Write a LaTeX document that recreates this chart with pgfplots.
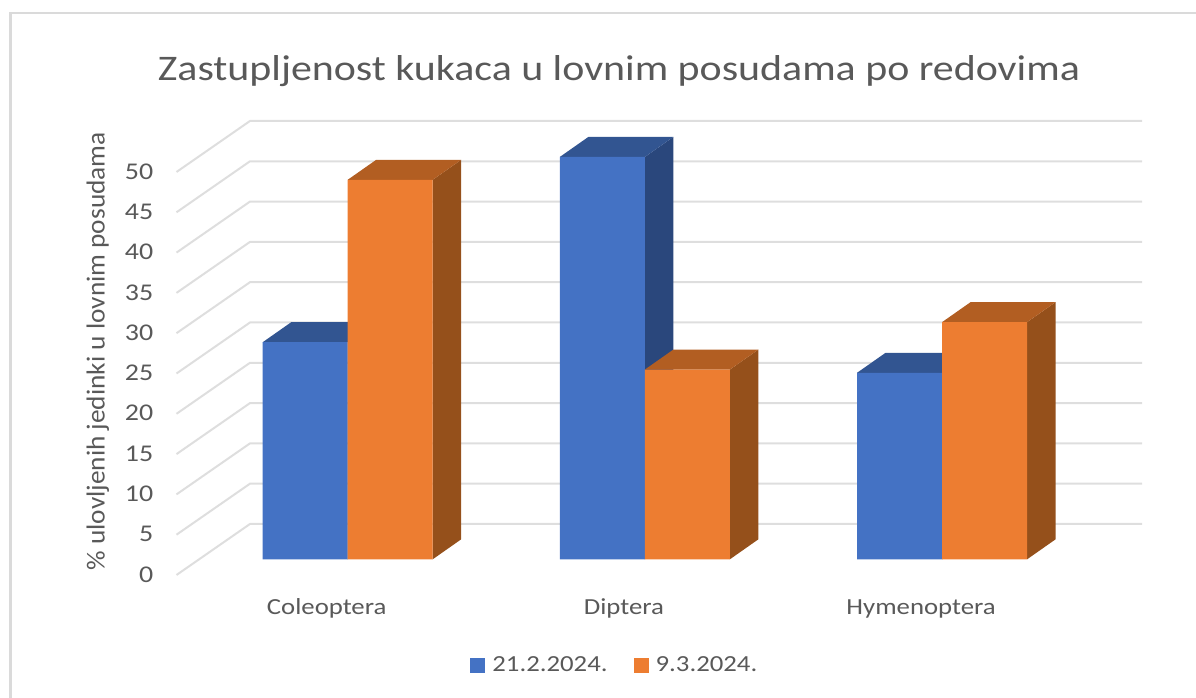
\documentclass[border=0pt]{standalone}
\usepackage{pgfplots}
\pgfplotsset{compat=1.18}
\usepackage{fontspec}
\setmainfont{Carlito}
\newfontfamily\wide[FakeStretch=1.164]{Carlito}
\newfontfamily\semi[FakeStretch=1.05]{Carlito}
\definecolor{txt}{HTML}{595959}
\definecolor{gridc}{HTML}{DEDEDE}
\definecolor{frame}{HTML}{DADADA}
\definecolor{bl}{HTML}{4472C4}
\definecolor{blS}{HTML}{2A477C}
\definecolor{blT}{HTML}{325591}
\definecolor{or}{HTML}{ED7D31}
\definecolor{orS}{HTML}{95501B}
\definecolor{orT}{HTML}{B25E22}
\newcommand{\wall}[2]{\addplot[gridc,line width=2pt] coordinates {(-0.576,#1)(-0.3287,#2)(2.6726,#2)};}
\newcommand{\face}[2]{\addplot[fill=#1,draw=none,forget plot] coordinates {#2} --cycle;}
\begin{document}
\begin{tikzpicture}[x=1pt,y=1pt]
\path[use as bounding box] (0,0) rectangle (1196,698);
\draw[frame,line width=2.4pt] (10.5,-5) -- (10.5,685) -- (1200,685);
\node[text=txt,font=\wide\fontsize{36}{40}\selectfont,anchor=center] at (619,627) {Zastupljenost kukaca u lovnim posudama po redovima};
% walls, y ticks, category labels: the front plane of the chart
\begin{axis}[
  at={(176.5pt,123pt)},anchor=south west,scale only axis,
  width=965.5pt,height=403pt,clip=false,
  xmin=-0.576,xmax=2.6726,ymin=0,ymax=50,
  axis line style={draw=none},tick style={draw=none},
  ytick={0,5,...,50},
  xtick={0,1,2},xticklabels={Coleoptera,Diptera,Hymenoptera},
  typeset ticklabels with strut,
  /pgf/number format/assume math mode=true,
  yticklabel style={font=\wide\fontsize{24}{26}\selectfont,text=txt},
  xticklabel style={font=\wide\fontsize{23}{25}\selectfont,text=txt,xshift=-21pt,yshift=-22pt},
  tick label style={inner sep=0pt},
  y tick label style={xshift=-23pt,yshift=-2pt},
  ylabel={\% ulovljenih jedinki u lovnim posudama},
  ylabel style={font=\semi\fontsize{26}{28}\selectfont,text=txt,at={(axis description cs:-0.0815,0.555)},anchor=center},
  every axis plot/.append style={forget plot},
]
\wall{0}{6.33}\wall{5}{11.33}\wall{10}{16.33}\wall{15}{21.33}\wall{20}{26.33}\wall{25}{31.33}
\wall{30}{36.33}\wall{35}{41.33}\wall{40}{46.33}\wall{45}{51.33}\wall{50}{56.33}
\end{axis}
% bars, base at the middle of the depth
\begin{axis}[
  at={(176.5pt,138.7pt)},anchor=south west,scale only axis,
  width=965.5pt,height=402pt,clip=false,
  xmin=-0.576,xmax=2.6726,ymin=0,ymax=50,
  axis lines=none,
  legend columns=2,
  legend style={draw=none,fill=none,font=\wide\fontsize{23}{25}\selectfont,text=txt,
    at={(axis description cs:0.454,-0.263)},anchor=center,
    /tikz/every even column/.append style={column sep=24pt}},
  legend image code/.code={\fill[#1] (0pt,-7.5pt) rectangle (15pt,7.5pt);\path (20pt,0pt);},
]
% blue series
\face{blS}{(0,0)(0.096,2.49)(0.096,29.49)(0,27)}
\face{blT}{(-0.286,27)(0,27)(0.096,29.49)(-0.19,29.49)}
\face{blS}{(1,0)(1.096,2.49)(1.096,52.54)(1,50.05)}
\face{blT}{(0.714,50.05)(1,50.05)(1.096,52.54)(0.81,52.54)}
\face{blS}{(2,0)(2.096,2.49)(2.096,25.69)(2,23.2)}
\face{blT}{(1.714,23.2)(2,23.2)(2.096,25.69)(1.81,25.69)}
\addplot[ybar,bar width=85pt,bar shift=-42.5pt,fill=bl,draw=none] coordinates {(0,27)(1,50.05)(2,23.2)};
\addlegendentry{21.2.2024.}
% orange series
\face{orS}{(0.286,0)(0.382,2.49)(0.382,49.69)(0.286,47.2)}
\face{orT}{(0,47.2)(0.286,47.2)(0.382,49.69)(0.096,49.69)}
\face{orS}{(1.286,0)(1.382,2.49)(1.382,26.09)(1.286,23.6)}
\face{orT}{(1,23.6)(1.286,23.6)(1.382,26.09)(1.096,26.09)}
\face{orS}{(2.286,0)(2.382,2.49)(2.382,31.99)(2.286,29.5)}
\face{orT}{(2,29.5)(2.286,29.5)(2.382,31.99)(2.096,31.99)}
\addplot[ybar,bar width=85pt,bar shift=42.5pt,fill=or,draw=none] coordinates {(0,47.2)(1,23.6)(2,29.5)};
\addlegendentry{9.3.2024.}
\end{axis}
\end{tikzpicture}
\end{document}
